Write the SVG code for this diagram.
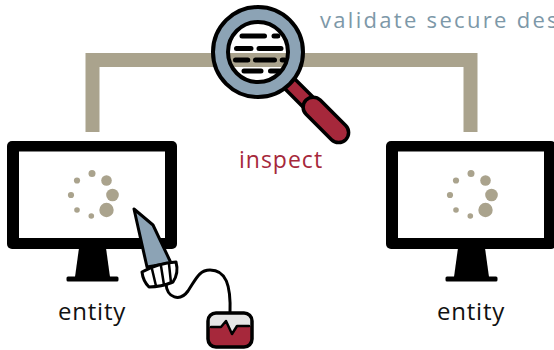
<svg xmlns="http://www.w3.org/2000/svg" width="554" height="350" viewBox="0 0 554 350">
  <style>
    .lbl { font-family: "Open Sans", "Noto Sans", sans-serif; }
    .frame { fill: #000; }
    .screen { fill: #fff; }
    .dot { fill: #aaa38d; }
    .ink { stroke: #000; stroke-linecap: round; stroke-linejoin: round; }
  </style>
  <defs>
    <g id="spinner">
      <circle class="dot" cx="0" cy="-21.5" r="3.5"/>
      <circle class="dot" cx="14.5" cy="-14.5" r="5.3"/>
      <circle class="dot" cx="20.5" cy="0" r="6.3"/>
      <circle class="dot" cx="14.5" cy="15" r="7.2"/>
      <circle class="dot" cx="-0.7" cy="21" r="2.8"/>
      <circle class="dot" cx="-15" cy="15" r="2.8"/>
      <circle class="dot" cx="-21" cy="0" r="3.1"/>
      <circle class="dot" cx="-15" cy="-14.5" r="3.1"/>
    </g>
    <g id="monitor">
      <rect class="frame" x="-85" y="0" width="170" height="108" rx="5"/>
      <rect class="screen" x="-73" y="10.5" width="146" height="86.5"/>
      <path class="frame" d="M-13,107 L14,107 L18,136 L-17,136 Z"/>
      <rect class="frame" x="-25.5" y="135.5" width="52" height="5" rx="1.5"/>
      <use href="#spinner" x="0" y="54"/>
    </g>
  </defs>

  <!-- connectors -->
  <g id="connectors">
    <path d="M92.5,132 V60 H470.5 V132" fill="none" stroke="#aaa38d" stroke-width="14"/>
  </g>

  <!-- left entity -->
  <g id="entity-left">
    <use href="#monitor" x="92" y="141"/>
    <text class="lbl" x="92" y="320" font-size="24" text-anchor="middle" letter-spacing="0.8" fill="#111">entity</text>
  </g>

  <!-- right entity -->
  <g id="entity-right">
    <use href="#monitor" x="471" y="141"/>
    <text class="lbl" x="471" y="320" font-size="24" text-anchor="middle" letter-spacing="0.8" fill="#111">entity</text>
  </g>

  <!-- stylus with cable and sensor pad -->
  <g id="probe">
    <path class="ink" d="M166,284 C167,298 180,302 188,291 C196,279 199,270 210,270 C226,270 231,285 230,313" fill="none" stroke-width="3"/>
    <path class="ink" d="M134,209 L153,225 L171,263 L147,267 Z" fill="#8ca3b5" stroke-width="3"/>
    <path class="ink" d="M142,272 Q158,263 176,262 Q179,273 173,282 Q161,287 149,287 Q143,281 142,272 Z" fill="#fff" stroke-width="3"/>
    <path class="ink" d="M152,269 L156,286 M161,266 L164,285 M169,264 L171,283" fill="none" stroke-width="2.5"/>
    <rect x="208" y="313" width="44" height="34" rx="8" fill="#e6e6e6"/>
    <path d="M208,327 H221 L226,321 L232,334 L237,326 H252 V339 Q252,347 244,347 H216 Q208,347 208,339 Z" fill="#a6283b"/>
    <path class="ink" d="M211,327 H221 L226,321 L232,334 L237,326 H249" fill="none" stroke-width="2.5"/>
    <rect class="ink" x="208" y="313" width="44" height="34" rx="8" fill="none" stroke-width="3.5"/>
  </g>

  <!-- magnifier -->
  <g id="inspect">
    <g transform="translate(258,52) rotate(45)">
      <rect class="ink" x="44" y="-7" width="26" height="14" fill="#a6283b" stroke-width="3.5"/>
      <rect class="ink" x="68" y="-10" width="56" height="20" rx="10" fill="#a6283b" stroke-width="3.5"/>
    </g>
    <circle cx="258" cy="52" r="38" fill="none" stroke="#8ca3b5" stroke-width="14"/>
    <circle cx="258" cy="52" r="45" fill="none" stroke="#000" stroke-width="4"/>
    <circle cx="258" cy="52" r="30" fill="none" stroke="#000" stroke-width="4"/>
    <g class="ink" stroke-width="5" fill="none">
      <path d="M242,36 H264.5 M274,36 H277.8"/>
      <path d="M236.5,48.5 H251 M259,48.5 H281"/>
      <path d="M235.5,60 H247.8 M255.5,60 H274.5 M282.2,60 H284.5"/>
      <path d="M244,71 H261 M270.5,71 H279.5"/>
    </g>
    <text class="lbl" x="239" y="168" font-size="23" letter-spacing="1" fill="#a6283b">inspect</text>
  </g>

  <text class="lbl" x="320" y="28" font-size="22" letter-spacing="2.3" fill="#7d98a8">validate secure des</text>
</svg>
